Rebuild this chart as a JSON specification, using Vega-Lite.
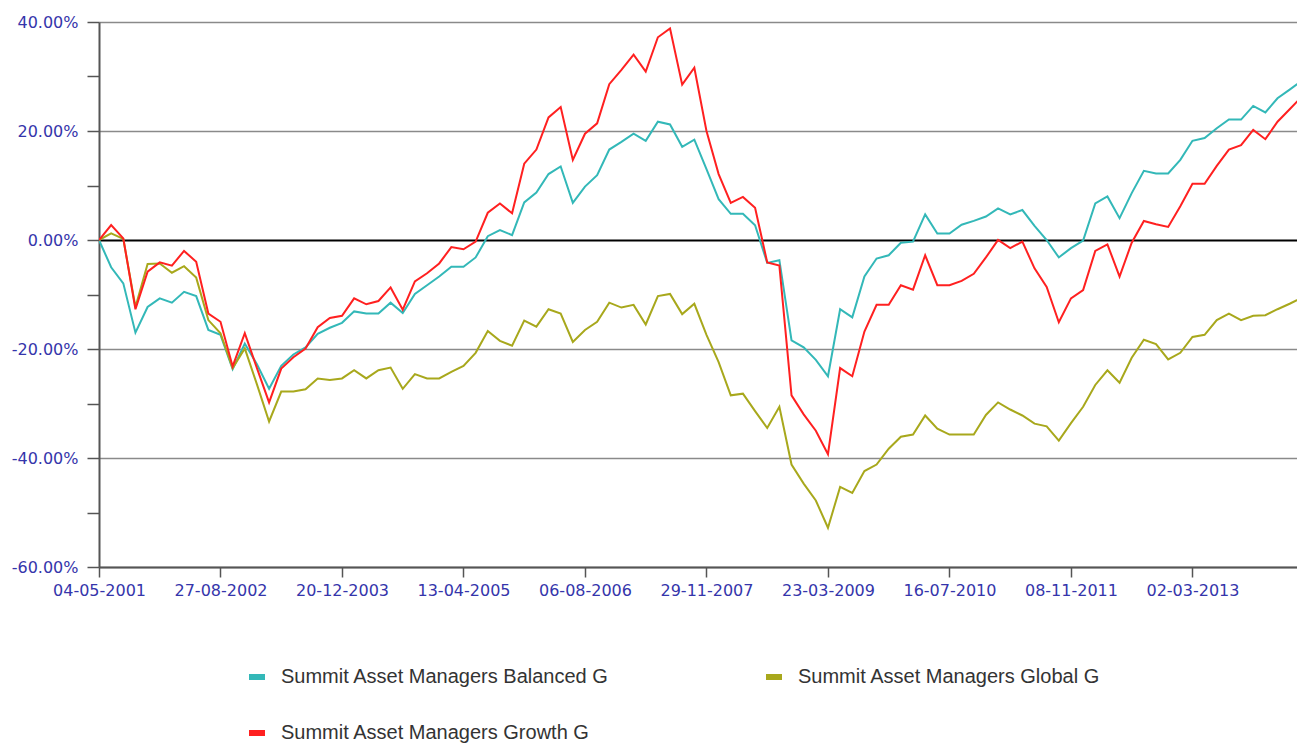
{
  "$schema": "https://vega.github.io/schema/vega-lite/v6.json",
  "width": 1198,
  "height": 545,
  "autosize": {"type": "none"},
  "padding": {"left": 99, "top": 22, "right": 0, "bottom": 181},
  "background": "white",
  "config": {"view": {"stroke": null}},
  "data": {"values": [
    {"d":"2001-05-04","Balanced":0,"Global":0,"Growth":0},
    {"d":"2001-06-21","Balanced":-5.0,"Global":1.2,"Growth":2.75},
    {"d":"2001-08-08","Balanced":-7.95,"Global":0.2,"Growth":0.3},
    {"d":"2001-09-25","Balanced":-17.0,"Global":-12.3,"Growth":-12.7},
    {"d":"2001-11-12","Balanced":-12.3,"Global":-4.4,"Growth":-5.8},
    {"d":"2001-12-30","Balanced":-10.7,"Global":-4.3,"Growth":-4.1},
    {"d":"2002-02-16","Balanced":-11.5,"Global":-6.0,"Growth":-4.7},
    {"d":"2002-04-05","Balanced":-9.5,"Global":-4.8,"Growth":-2.0},
    {"d":"2002-05-23","Balanced":-10.3,"Global":-6.9,"Growth":-4.0},
    {"d":"2002-07-10","Balanced":-16.5,"Global":-14.7,"Growth":-13.5},
    {"d":"2002-08-27","Balanced":-17.4,"Global":-17.1,"Growth":-15.0},
    {"d":"2002-10-14","Balanced":-23.7,"Global":-23.5,"Growth":-23.2},
    {"d":"2002-12-01","Balanced":-19.0,"Global":-19.9,"Growth":-17.1},
    {"d":"2003-01-18","Balanced":-22.8,"Global":-26.5,"Growth":-23.5},
    {"d":"2003-03-07","Balanced":-27.3,"Global":-33.3,"Growth":-29.8},
    {"d":"2003-04-24","Balanced":-23.1,"Global":-27.8,"Growth":-23.6},
    {"d":"2003-06-11","Balanced":-21.0,"Global":-27.8,"Growth":-21.5},
    {"d":"2003-07-29","Balanced":-19.7,"Global":-27.4,"Growth":-19.9},
    {"d":"2003-09-15","Balanced":-17.2,"Global":-25.4,"Growth":-16.0},
    {"d":"2003-11-02","Balanced":-16.1,"Global":-25.7,"Growth":-14.3},
    {"d":"2003-12-20","Balanced":-15.2,"Global":-25.4,"Growth":-13.9},
    {"d":"2004-02-06","Balanced":-13.1,"Global":-23.9,"Growth":-10.7},
    {"d":"2004-03-25","Balanced":-13.5,"Global":-25.4,"Growth":-11.8},
    {"d":"2004-05-12","Balanced":-13.5,"Global":-23.9,"Growth":-11.2},
    {"d":"2004-06-29","Balanced":-11.5,"Global":-23.4,"Growth":-8.7},
    {"d":"2004-08-16","Balanced":-13.4,"Global":-27.3,"Growth":-12.8},
    {"d":"2004-10-03","Balanced":-9.9,"Global":-24.6,"Growth":-7.6},
    {"d":"2004-11-20","Balanced":-8.3,"Global":-25.4,"Growth":-6.1},
    {"d":"2005-01-07","Balanced":-6.7,"Global":-25.4,"Growth":-4.3},
    {"d":"2005-02-24","Balanced":-4.9,"Global":-24.2,"Growth":-1.3},
    {"d":"2005-04-13","Balanced":-4.9,"Global":-23.1,"Growth":-1.7},
    {"d":"2005-05-31","Balanced":-3.2,"Global":-20.7,"Growth":-0.3},
    {"d":"2005-07-18","Balanced":0.7,"Global":-16.7,"Growth":5.0},
    {"d":"2005-09-04","Balanced":1.8,"Global":-18.5,"Growth":6.7},
    {"d":"2005-10-22","Balanced":0.9,"Global":-19.4,"Growth":4.9},
    {"d":"2005-12-09","Balanced":6.9,"Global":-14.8,"Growth":14.0},
    {"d":"2006-01-26","Balanced":8.7,"Global":-15.9,"Growth":16.6},
    {"d":"2006-03-15","Balanced":12.1,"Global":-12.7,"Growth":22.5},
    {"d":"2006-05-02","Balanced":13.5,"Global":-13.5,"Growth":24.4},
    {"d":"2006-06-19","Balanced":6.8,"Global":-18.7,"Growth":14.7},
    {"d":"2006-08-06","Balanced":9.8,"Global":-16.5,"Growth":19.5},
    {"d":"2006-09-23","Balanced":11.9,"Global":-15.0,"Growth":21.4},
    {"d":"2006-11-10","Balanced":16.6,"Global":-11.5,"Growth":28.6},
    {"d":"2006-12-28","Balanced":18.0,"Global":-12.4,"Growth":31.2},
    {"d":"2007-02-14","Balanced":19.5,"Global":-11.9,"Growth":34.0},
    {"d":"2007-04-03","Balanced":18.2,"Global":-15.5,"Growth":30.9},
    {"d":"2007-05-21","Balanced":21.7,"Global":-10.3,"Growth":37.2},
    {"d":"2007-07-08","Balanced":21.2,"Global":-9.9,"Growth":38.8},
    {"d":"2007-08-25","Balanced":17.1,"Global":-13.6,"Growth":28.5},
    {"d":"2007-10-12","Balanced":18.4,"Global":-11.7,"Growth":31.6},
    {"d":"2007-11-29","Balanced":13.0,"Global":-17.4,"Growth":20.0},
    {"d":"2008-01-16","Balanced":7.5,"Global":-22.4,"Growth":12.1},
    {"d":"2008-03-04","Balanced":4.8,"Global":-28.5,"Growth":6.8},
    {"d":"2008-04-21","Balanced":4.8,"Global":-28.2,"Growth":7.9},
    {"d":"2008-06-08","Balanced":2.7,"Global":-31.4,"Growth":5.9},
    {"d":"2008-07-26","Balanced":-4.2,"Global":-34.5,"Growth":-4.1},
    {"d":"2008-09-12","Balanced":-3.7,"Global":-30.6,"Growth":-4.7},
    {"d":"2008-10-30","Balanced":-18.4,"Global":-41.2,"Growth":-28.5},
    {"d":"2008-12-17","Balanced":-19.7,"Global":-44.7,"Growth":-32.0},
    {"d":"2009-02-03","Balanced":-22.0,"Global":-47.8,"Growth":-35.0},
    {"d":"2009-03-23","Balanced":-25.0,"Global":-52.8,"Growth":-39.3},
    {"d":"2009-05-10","Balanced":-12.7,"Global":-45.3,"Growth":-23.5},
    {"d":"2009-06-27","Balanced":-14.2,"Global":-46.4,"Growth":-25.0},
    {"d":"2009-08-14","Balanced":-6.7,"Global":-42.4,"Growth":-16.8},
    {"d":"2009-10-01","Balanced":-3.4,"Global":-41.2,"Growth":-11.9},
    {"d":"2009-11-18","Balanced":-2.8,"Global":-38.3,"Growth":-11.9},
    {"d":"2010-01-05","Balanced":-0.5,"Global":-36.1,"Growth":-8.3},
    {"d":"2010-02-22","Balanced":-0.3,"Global":-35.7,"Growth":-9.1},
    {"d":"2010-04-11","Balanced":4.7,"Global":-32.2,"Growth":-2.8},
    {"d":"2010-05-29","Balanced":1.2,"Global":-34.6,"Growth":-8.3},
    {"d":"2010-07-16","Balanced":1.2,"Global":-35.7,"Growth":-8.3},
    {"d":"2010-09-02","Balanced":2.8,"Global":-35.7,"Growth":-7.5},
    {"d":"2010-10-20","Balanced":3.5,"Global":-35.7,"Growth":-6.2},
    {"d":"2010-12-07","Balanced":4.3,"Global":-32.1,"Growth":-3.2},
    {"d":"2011-01-24","Balanced":5.8,"Global":-29.8,"Growth":0.0},
    {"d":"2011-03-13","Balanced":4.7,"Global":-31.1,"Growth":-1.5},
    {"d":"2011-04-30","Balanced":5.5,"Global":-32.2,"Growth":-0.3},
    {"d":"2011-06-17","Balanced":2.6,"Global":-33.7,"Growth":-5.2},
    {"d":"2011-08-04","Balanced":0.0,"Global":-34.2,"Growth":-8.6},
    {"d":"2011-09-21","Balanced":-3.2,"Global":-36.8,"Growth":-15.1},
    {"d":"2011-11-08","Balanced":-1.5,"Global":-33.6,"Growth":-10.7},
    {"d":"2011-12-26","Balanced":-0.1,"Global":-30.6,"Growth":-9.2},
    {"d":"2012-02-12","Balanced":6.7,"Global":-26.6,"Growth":-2.0},
    {"d":"2012-03-31","Balanced":8.0,"Global":-23.9,"Growth":-0.8},
    {"d":"2012-05-18","Balanced":4.0,"Global":-26.2,"Growth":-6.7},
    {"d":"2012-07-05","Balanced":8.6,"Global":-21.6,"Growth":-0.5},
    {"d":"2012-08-22","Balanced":12.7,"Global":-18.3,"Growth":3.5},
    {"d":"2012-10-09","Balanced":12.2,"Global":-19.1,"Growth":2.9},
    {"d":"2012-11-26","Balanced":12.2,"Global":-21.9,"Growth":2.4},
    {"d":"2013-01-13","Balanced":14.7,"Global":-20.7,"Growth":6.2},
    {"d":"2013-03-02","Balanced":18.2,"Global":-17.8,"Growth":10.3},
    {"d":"2013-04-19","Balanced":18.7,"Global":-17.4,"Growth":10.3},
    {"d":"2013-06-06","Balanced":20.5,"Global":-14.7,"Growth":13.6},
    {"d":"2013-07-24","Balanced":22.1,"Global":-13.5,"Growth":16.6},
    {"d":"2013-09-10","Balanced":22.1,"Global":-14.7,"Growth":17.4},
    {"d":"2013-10-28","Balanced":24.6,"Global":-13.9,"Growth":20.2},
    {"d":"2013-12-15","Balanced":23.4,"Global":-13.8,"Growth":18.5},
    {"d":"2014-02-01","Balanced":26.0,"Global":-12.7,"Growth":21.7},
    {"d":"2014-03-21","Balanced":27.6,"Global":-11.7,"Growth":24.0},
    {"d":"2014-05-08","Balanced":29.2,"Global":-10.6,"Growth":26.3}
  ]},
  "transform": [{"fold": ["Balanced", "Global", "Growth"], "as": ["series", "pct"]}],
  "mark": {"type": "line", "strokeWidth": 2, "clip": true},
  "encoding": {
    "x": {
      "field": "d", "type": "temporal",
      "scale": {"type": "utc", "domain": [{"year": 2001, "month": 5, "date": 4, "utc": true}, {"year": 2014, "month": 4, "date": 19, "utc": true}]},
      "axis": {
        "values": [
          {"year": 2001, "month": 5, "date": 4, "utc": true},
          {"year": 2002, "month": 8, "date": 27, "utc": true},
          {"year": 2003, "month": 12, "date": 20, "utc": true},
          {"year": 2005, "month": 4, "date": 13, "utc": true},
          {"year": 2006, "month": 8, "date": 6, "utc": true},
          {"year": 2007, "month": 11, "date": 29, "utc": true},
          {"year": 2009, "month": 3, "date": 23, "utc": true},
          {"year": 2010, "month": 7, "date": 16, "utc": true},
          {"year": 2011, "month": 11, "date": 8, "utc": true},
          {"year": 2013, "month": 3, "date": 2, "utc": true}
        ],
        "format": "%d-%m-%Y",
        "title": null,
        "grid": false,
        "domainColor": "#555555",
        "domainWidth": 2,
        "tickColor": "#555555",
        "tickWidth": 1.5,
        "tickSize": 10,
        "labelPadding": 5,
        "labelColor": "#3535ab",
        "labelFont": "DejaVu Sans",
        "labelFontSize": 16,
        "labelOverlap": false,
        "labelFlush": false
      }
    },
    "y": {
      "field": "pct", "type": "quantitative",
      "scale": {"domain": [-60, 40], "nice": false},
      "axis": {
        "values": [-60, -50, -40, -30, -20, -10, 0, 10, 20, 30, 40],
        "labelExpr": "datum.value % 20 === 0 ? (datum.value < 0 ? '-' : '') + format(abs(datum.value), '.2f') + '%' : ''",
        "title": null,
        "domainColor": "#555555",
        "domainWidth": 2,
        "tickColor": "#555555",
        "tickWidth": 1.5,
        "tickSize": 12,
        "labelPadding": 9,
        "labelColor": "#3535ab",
        "labelFont": "DejaVu Sans",
        "labelFontSize": 16,
        "labelOverlap": false,
        "labelFlush": false,
        "grid": true,
        "gridColor": {"condition": {"test": "datum.value === 0", "value": "#000000"}, "value": "#8a8a8a"},
        "gridOpacity": {"condition": {"test": "datum.value % 20 !== 0", "value": 0}, "value": 1},
        "gridWidth": {"condition": {"test": "datum.value === 0", "value": 2}, "value": 1.5}
      }
    },
    "color": {
      "field": "series", "type": "nominal",
      "scale": {"domain": ["Balanced", "Growth", "Global"], "range": ["#33b8b8", "#ff2020", "#a8a81c"]},
      "legend": {
        "orient": "none",
        "legendX": 148,
        "legendY": 645,
        "columns": 2,
        "columnPadding": 155,
        "rowPadding": 36,
        "padding": 0,
        "title": null,
        "symbolType": "M-1,-0.375H1V0.375H-1Z",
        "symbolSize": 256,
        "symbolStrokeWidth": 0,
        "labelFont": "Liberation Sans",
        "labelFontSize": 20,
        "labelColor": "#333333",
        "labelOffset": 14,
        "labelLimit": 600,
        "labelExpr": "'Summit Asset Managers ' + datum.label + ' G'",
        "encode": {"symbols": {"update": {"fill": {"scale": "color", "field": "value"}}}}
      }
    }
  }
}
